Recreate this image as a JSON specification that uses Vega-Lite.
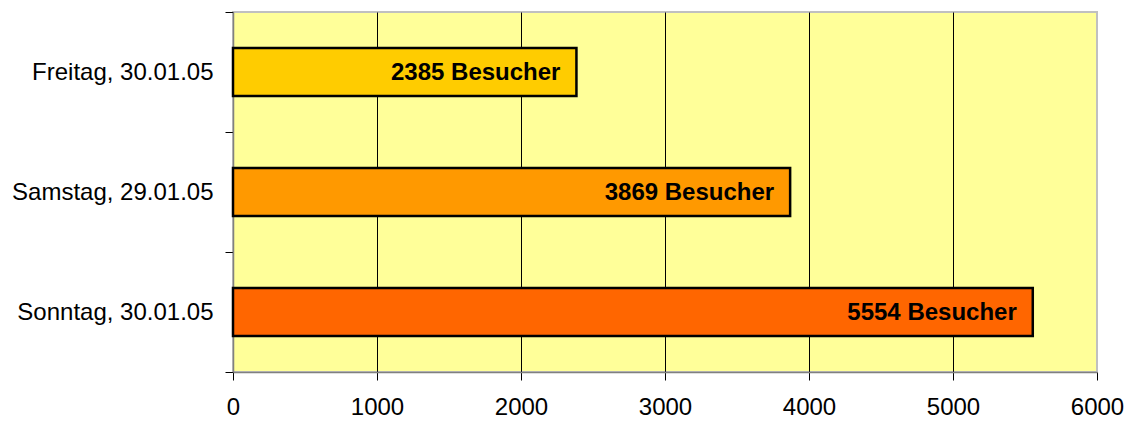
{
  "$schema": "https://vega.github.io/schema/vega-lite/v6.json",
  "autosize": "none",
  "width": 864,
  "height": 360,
  "padding": {"left": 233, "top": 12, "right": 32, "bottom": 50},
  "background": "white",
  "config": {
    "view": {"fill": "#FFFF99", "stroke": "#C0C0C0", "strokeWidth": 2},
    "font": "Liberation Sans"
  },
  "data": {
    "values": [
      {"tag": "Freitag, 30.01.05", "besucher": 2385, "farbe": "#FFCC00"},
      {"tag": "Samstag, 29.01.05", "besucher": 3869, "farbe": "#FF9900"},
      {"tag": "Sonntag, 30.01.05", "besucher": 5554, "farbe": "#FF6600"}
    ]
  },
  "encoding": {
    "y": {
      "field": "tag", "type": "nominal", "sort": null,
      "scale": {"padding": 0},
      "axis": {
        "title": null, "tickBand": "extent", "labelFontSize": 24, "labelColor": "#000",
        "labelPadding": 12, "tickSize": 8, "tickColor": "#000", "domainColor": "#808080",
        "domainWidth": 1.5, "labelFont": "Liberation Sans", "labelLimit": 300
      }
    },
    "x": {
      "field": "besucher", "type": "quantitative",
      "scale": {"domain": [0, 6000], "nice": false},
      "axis": {
        "title": null, "values": [0, 1000, 2000, 3000, 4000, 5000, 6000],
        "labelFontSize": 24, "labelColor": "#000", "labelPadding": 15, "tickSize": 8,
        "labelFlush": false, "labelOverlap": false,
        "tickColor": "#000", "domainColor": "#808080", "domainWidth": 1.5,
        "grid": true,
        "gridColor": {"condition": {"test": "datum.value === 0 || datum.value === 6000", "value": "transparent"}, "value": "#000"},
        "gridWidth": 1, "format": "d", "labelFont": "Liberation Sans"
      }
    }
  },
  "layer": [
    {
      "mark": {"type": "bar", "size": 48, "stroke": "#000", "strokeWidth": 2.5},
      "encoding": {"color": {"field": "farbe", "type": "nominal", "scale": null}}
    },
    {
      "mark": {"type": "text", "align": "right", "baseline": "middle", "dx": -16, "dy": 1, "fontSize": 24, "fontWeight": "bold", "color": "#000"},
      "encoding": {"text": {"field": "label"}},
      "transform": [{"calculate": "datum.besucher + ' Besucher'", "as": "label"}]
    }
  ]
}
